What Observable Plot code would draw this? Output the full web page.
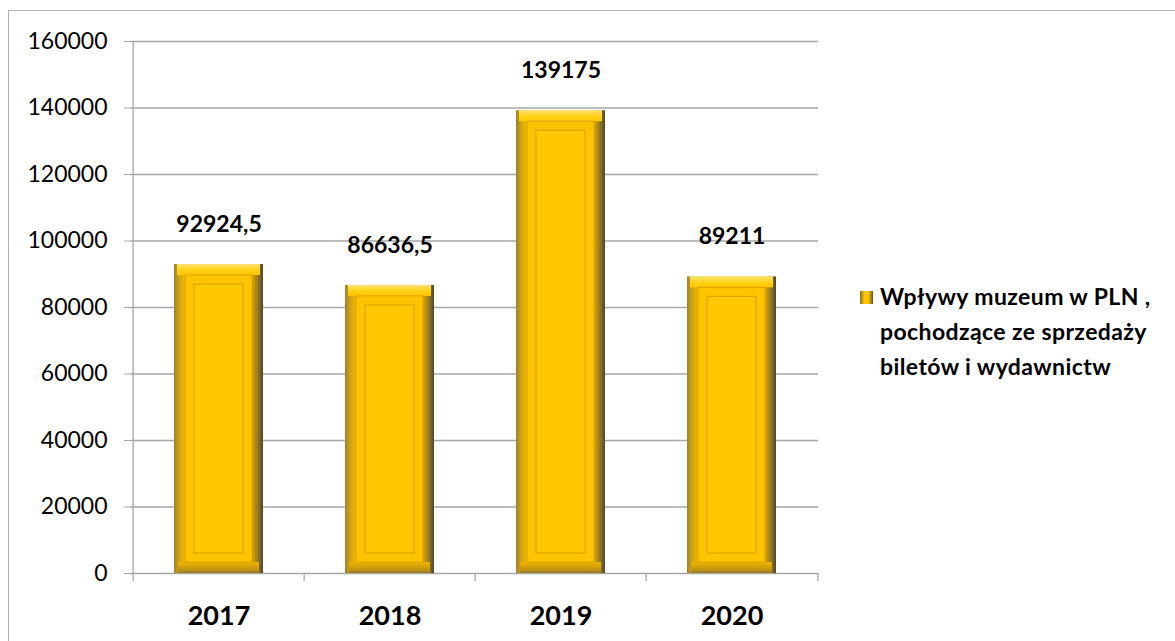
<!DOCTYPE html>
<html>
<head>
<meta charset="utf-8">
<script src="https://cdn.jsdelivr.net/npm/d3@7"></script>
<script src="https://cdn.jsdelivr.net/npm/@observablehq/plot@0.6"></script>
<style>
  html, body { margin: 0; padding: 0; background: #fff; }
  #wrap { position: relative; width: 1175px; height: 641px; overflow: hidden; font-family: Lato, "Open Sans", sans-serif; }
  #border { position: absolute; left: 8px; top: 10px; width: 1200px; height: 700px; border: 1.5px solid #b0b0b0; box-sizing: border-box; }
  #chart { position: absolute; left: 0; top: 0; }
  #legend { position: absolute; left: 858px; top: 279px; font-weight: 700; font-size: 23px; letter-spacing: 0.4px; line-height: 35px; color: #000; }
  #legend .row { position: relative; padding-left: 22px; white-space: nowrap; }
  #legend .sw { position: absolute; left: 2px; top: 12px; width: 13px; height: 13px;
    background: linear-gradient(90deg, #8a7428 0%, #ffc400 35%, #ffc400 65%, #5e5030 100%); }
</style>
</head>
<body>
<div id="wrap">
  <div id="border"></div>
  <div id="chart"></div>
  <div id="legend"></div>
</div>
<script>
const years = ["2017", "2018", "2019", "2020"];
const values = [92924.5, 86636.5, 139175, 89211];
const valueLabels = ["92924,5", "86636,5", "139175", "89211"];
const yTicks = [0, 20000, 40000, 60000, 80000, 100000, 120000, 140000, 160000];
const seriesName = "Wpływy muzeum w PLN , pochodzące ze sprzedaży biletów i wydawnictw";
const legendLines = ["Wpływy muzeum w PLN ,", "pochodzące ze sprzedaży", "biletów i wydawnictw"];

const data = years.map((y, i) => ({year: y, value: values[i], label: valueLabels[i]}));

const W = 1175, H = 641;
const mL = 131, mR = 357, mT = 41, mB = 68;
const step = (W - mL - mR) / years.length;
const gridColor = "#a6a6a6";

const plot = Plot.plot({
  width: W,
  height: H,
  marginLeft: mL,
  marginRight: mR,
  marginTop: mT,
  marginBottom: mB,
  style: {fontFamily: "Lato, 'Open Sans', sans-serif", background: "transparent", overflow: "visible"},
  x: {domain: years, paddingInner: 0.48, paddingOuter: 0.24, label: null},
  y: {domain: [0, 160000], label: null},
  marks: [
    Plot.ruleY(yTicks, {stroke: gridColor, strokeWidth: 1.3}),
    Plot.ruleX(years.slice(0, 1), {x: d => d, y1: 0, y2: 160000, dx: -step / 2, stroke: gridColor, strokeWidth: 1.3}),
    Plot.ruleX(years, {x: d => d, y1: 0, y2: 0, dx: -step / 2, insetBottom: -8, stroke: gridColor, strokeWidth: 1.3}),
    Plot.ruleX(years.slice(-1), {x: d => d, y1: 0, y2: 0, dx: step / 2, insetBottom: -8, stroke: gridColor, strokeWidth: 1.3}),
    Plot.axisY({ticks: yTicks, tickFormat: d => String(d), tickSize: 7, tickPadding: 17, stroke: gridColor, fontSize: 23, fill: "#000"}),
    Plot.axisX({tickSize: 0, tickPadding: 32, fontSize: 27, fontWeight: 700, fill: "#000"}),
    Plot.barY(data, {x: "year", y: "value", fill: "url(#gSide)"}),
    Plot.barY(data, {x: "year", y1: "value", y2: "value", insetBottom: -11, insetLeft: 3, insetRight: 3, fill: "url(#gTop)"}),
    Plot.barY(data, {x: "year", y1: 0, y2: 0, insetTop: -11, insetLeft: 4, insetRight: 4, fill: "url(#gBottom)"}),
    Plot.barY(data, {x: "year", y: "value", inset: 11, fill: "#ffc300", stroke: "#d9a200", strokeWidth: 1}),
    Plot.barY(data, {x: "year", y: "value", inset: 20, fill: "#ffc800", stroke: "#d6a000", strokeWidth: 1}),
    Plot.text(data, {x: "year", y: "value", text: "label", dy: -40, fontSize: 23, fontWeight: 700, fill: "#000"})
  ]
});

const svgSel = d3.select(plot);
const defs = svgSel.insert("defs", ":first-child");
const gSide = defs.append("linearGradient").attr("id", "gSide").attr("x1", 0).attr("x2", 1).attr("y1", 0).attr("y2", 0);
[[0, "#9c8230"], [0.05, "#c9a018"], [0.12, "#f2b800"], [0.14, "#ffc400"], [0.86, "#ffc400"], [0.88, "#d9a400"], [0.95, "#8c7428"], [1, "#4e4430"]]
  .forEach(([o, c]) => gSide.append("stop").attr("offset", o).attr("stop-color", c));
const gTop = defs.append("linearGradient").attr("id", "gTop").attr("x1", 0).attr("x2", 0).attr("y1", 0).attr("y2", 1);
[[0, "#ffe27a"], [0.5, "#ffd21a"], [1, "#ffc400"]]
  .forEach(([o, c]) => gTop.append("stop").attr("offset", o).attr("stop-color", c));
const gBottom = defs.append("linearGradient").attr("id", "gBottom").attr("x1", 0).attr("x2", 0).attr("y1", 0).attr("y2", 1);
[[0, "#f0b400"], [0.6, "#c99a10"], [1, "#9a7c28"]]
  .forEach(([o, c]) => gBottom.append("stop").attr("offset", o).attr("stop-color", c));

document.getElementById("chart").appendChild(plot);

const legend = document.getElementById("legend");
legend.setAttribute("title", seriesName);
legendLines.forEach((t, i) => {
  const row = document.createElement("div");
  row.className = "row";
  if (i === 0) {
    const sw = document.createElement("span");
    sw.className = "sw";
    row.appendChild(sw);
  }
  row.appendChild(document.createTextNode(t));
  legend.appendChild(row);
});
</script>
</body>
</html>
